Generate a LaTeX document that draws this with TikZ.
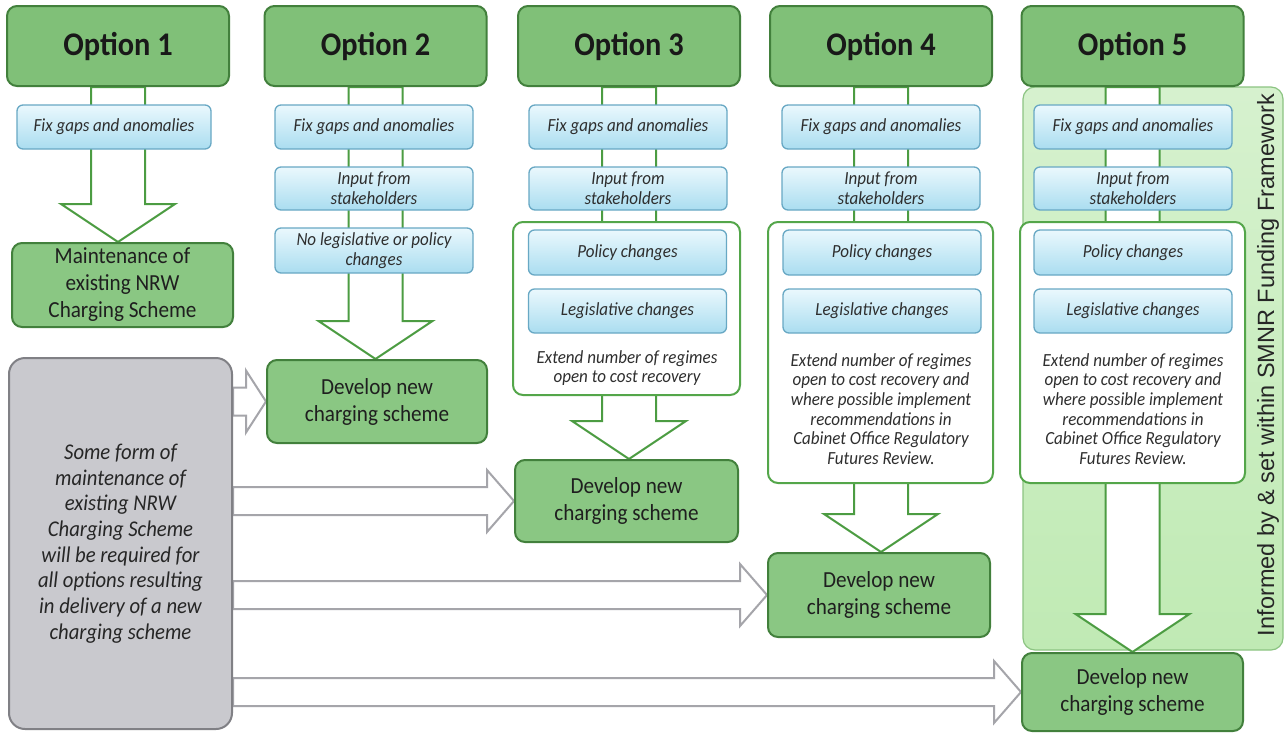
\documentclass[tikz,border=0pt]{standalone}
\usepackage{fontspec}
\setmainfont{Carlito}[FakeStretch=0.92]
\newfontfamily\arialfont{Liberation Sans}
\usetikzlibrary{calc}
\pgfdeclarelayer{bg}
\pgfdeclarelayer{arr}
\pgfsetlayers{bg,arr,main}
\definecolor{optfill}{RGB}{128,192,120}
\definecolor{devfill}{RGB}{138,199,131}
\definecolor{optborder}{RGB}{66,128,60}
\definecolor{bluetop}{RGB}{234,248,253}
\definecolor{bluebot}{RGB}{170,221,240}
\definecolor{blueborder}{RGB}{104,168,196}
\definecolor{wborder}{RGB}{84,166,74}
\definecolor{arrborder}{RGB}{76,156,66}
\definecolor{panelfill}{RGB}{192,234,180}
\definecolor{panelborder}{RGB}{140,196,130}
\definecolor{grayfill}{RGB}{201,201,206}
\definecolor{grayborder}{RGB}{128,128,133}
\definecolor{grayarr}{RGB}{165,165,170}
\newcommand{\varrowdown}[2]{%
  \path[greenarrow] let \p1=(#1.south), \p2=(#2.north) in
    (\x1-27pt,\y1) -- (\x1-27pt,\y2+38pt) -- (\x1-57pt,\y2+38pt) -- (\x1,\y2)
    -- (\x1+57pt,\y2+38pt) -- (\x1+27pt,\y2+38pt) -- (\x1+27pt,\y1) -- cycle;}
\newcommand{\harrowright}[3]{%
  \path[grayarrow] let \p1=(#1.east), \p2=(#2.west) in
    (\x1,\y2+14pt) -- (\x2-#3,\y2+14pt) -- (\x2-#3,\y2+31pt) -- (\x2,\y2)
    -- (\x2-#3,\y2-31pt) -- (\x2-#3,\y2-14pt) -- (\x1,\y2-14pt) -- cycle;}
\begin{document}
\begin{tikzpicture}[x=1pt,y=-1pt,
  optbox/.style={draw=optborder, fill=optfill, line width=2pt, rounded corners=10pt,
    minimum width=222pt, minimum height=80pt, inner sep=0pt,
    font=\fontsize{33}{36}\selectfont\bfseries, text=black!90},
  bluebox/.style={draw=blueborder, top color=bluetop, bottom color=bluebot, line width=1.3pt,
    rounded corners=6pt, minimum width=198pt, minimum height=44pt, inner sep=0pt, align=center,
    font=\fontsize{18.5}{20}\selectfont\itshape, text=black!82},
  devbox/.style={draw=optborder, fill=devfill, line width=2pt, rounded corners=10pt,
    minimum width=222pt, minimum height=83pt, inner sep=0pt, align=center,
    font=\fontsize{23}{27}\selectfont, text=black!88},
  whitebox/.style={draw=wborder, fill=white, line width=2pt, rounded corners=10pt, inner sep=0pt},
  wtext/.style={align=center, inner sep=0pt, font=\fontsize{18.5}{19.6}\selectfont\itshape, text=black!82},
  greenarrow/.style={draw=arrborder, fill=white, line width=2pt, line join=miter},
  grayarrow/.style={draw=grayarr, fill=white, line width=2pt, line join=miter},
  graybox/.style={draw=grayborder, fill=grayfill, line width=2pt, rounded corners=16pt,
    inner sep=0pt, align=center, font=\fontsize{22.5}{25.7}\selectfont\itshape, text=black!85}
]
\useasboundingbox (0,0) rectangle (1286,732);
\begin{pgfonlayer}{bg}
  \fill[white] (0,0) rectangle (1286,732);
  \draw[draw=panelborder, top color=panelfill!65!white, bottom color=panelfill, line width=1.2pt, rounded corners=12pt]
    (1023,87) rectangle (1283,650);
\end{pgfonlayer}

% option boxes
\node[optbox] (o1) at (118,46) {Option 1};
\node[optbox] (o2) at (375.5,46) {Option 2};
\node[optbox] (o3) at (629,46) {Option 3};
\node[optbox] (o4) at (881,46) {Option 4};
\node[optbox] (o5) at (1132.5,46) {Option 5};

% fix gaps boxes
\node[bluebox, minimum width=194pt] (f1) at (114,127) {Fix gaps and anomalies};
\node[bluebox] (f2) at (374,127) {Fix gaps and anomalies};
\node[bluebox] (f3) at (628,127) {Fix gaps and anomalies};
\node[bluebox] (f4) at (881,127) {Fix gaps and anomalies};
\node[bluebox] (f5) at (1133,127) {Fix gaps and anomalies};

% stakeholders
\node[bluebox, minimum height=43pt] (s2) at (374,188.5) {Input from\\stakeholders};
\node[bluebox, minimum height=43pt] (s3) at (628,188.5) {Input from\\stakeholders};
\node[bluebox, minimum height=43pt] (s4) at (881,188.5) {Input from\\stakeholders};
\node[bluebox, minimum height=43pt] (s5) at (1133,188.5) {Input from\\stakeholders};

\node[bluebox, minimum height=45pt] (n2) at (374,250.5) {No legislative or policy\\changes};

% white boxes
\node[whitebox, minimum width=227pt, minimum height=173pt] (w3) at (626.5,308.5) {};
\node[whitebox, minimum width=225pt, minimum height=261pt] (w4) at (880.5,352.5) {};
\node[whitebox, minimum width=225pt, minimum height=261pt] (w5) at (1132.5,352.5) {};

\node[bluebox, minimum height=45pt] (p3) at (627.5,252.5) {Policy changes};
\node[bluebox, minimum height=45pt] (p4) at (882,252.5) {Policy changes};
\node[bluebox, minimum height=45pt] (p5) at (1133,252.5) {Policy changes};
\node[bluebox] (l3) at (627.5,311) {Legislative changes};
\node[bluebox] (l4) at (882,311) {Legislative changes};
\node[bluebox] (l5) at (1133,311) {Legislative changes};

\node[wtext] (t3) at (627,368) {Extend number of regimes\\open to cost recovery};
\node[wtext] (t4) at (881,409) {Extend number of regimes\\open to cost recovery and\\where possible implement\\recommendations in\\Cabinet Office Regulatory\\Futures Review.};
\node[wtext] (t5) at (1133,409) {Extend number of regimes\\open to cost recovery and\\where possible implement\\recommendations in\\Cabinet Office Regulatory\\Futures Review.};

% result boxes
\node[devbox, minimum width=221pt, minimum height=84pt] (m1) at (122.5,285) {Maintenance of\\existing NRW\\Charging Scheme};
\node[devbox, minimum width=220pt] (d2) at (377,401.5) {Develop new\\charging scheme};
\node[devbox, minimum width=223pt, minimum height=82pt] (d3) at (626.5,501) {Develop new\\charging scheme};
\node[devbox, minimum height=84pt] (d4) at (879,595) {Develop new\\charging scheme};
\node[devbox, minimum width=221pt, minimum height=78pt] (d5) at (1132.5,692) {Develop new\\charging scheme};

% gray box
\node[graybox, minimum width=223pt, minimum height=371pt] (g) at (120.5,543.5)
  {Some form of\\maintenance of\\existing NRW\\Charging Scheme\\will be required for\\all options resulting\\in delivery of a new\\charging scheme};

% rotated label
\node[rotate=90, inner sep=0pt, font=\arialfont\fontsize{23.5}{26}\selectfont, text=black!85] (smnr) at (1268,365)
  {Informed by \& set within SMNR Funding Framework};

% arrows
\begin{pgfonlayer}{arr}
  \varrowdown{o1}{m1}
  \varrowdown{o2}{d2}
  \varrowdown{o3}{d3}
  \varrowdown{o4}{d4}
  \varrowdown{o5}{d5}
  \harrowright{g}{d2}{20pt}
  \harrowright{g}{d3}{27pt}
  \harrowright{g}{d4}{27pt}
  \harrowright{g}{d5}{27pt}
\end{pgfonlayer}
\end{tikzpicture}
\end{document}
